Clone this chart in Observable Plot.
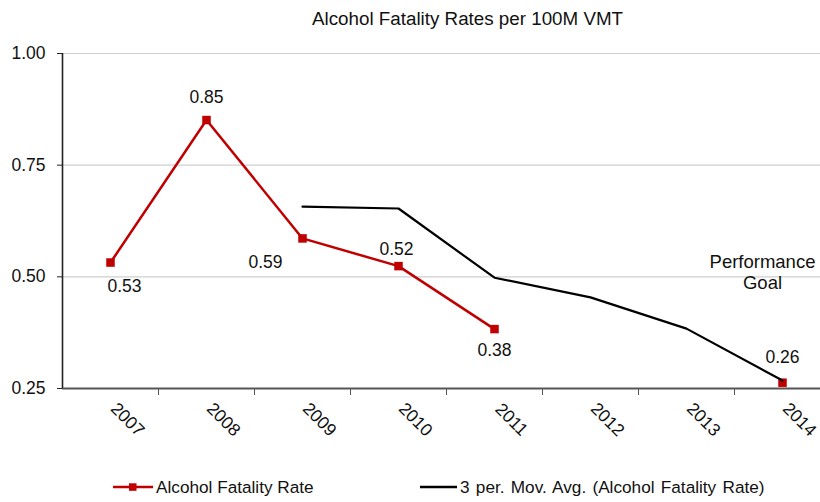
<!DOCTYPE html>
<html><head><meta charset="utf-8">
<script src="https://cdn.jsdelivr.net/npm/d3@7"></script>
<script src="https://cdn.jsdelivr.net/npm/@observablehq/plot@0.6"></script>
<style>
body{margin:0;background:#fff;font-family:"Liberation Sans",Arial,sans-serif;color:#111}
#wrap{position:relative;width:820px;height:502px;overflow:hidden}
#title{position:relative;height:34px}
#title span{position:absolute;left:312px;top:10px;font-size:18.8px;line-height:1;white-space:nowrap}
#chart{height:426px}
#chart svg{display:block}
#legend{position:relative;height:42px}
#legend .sw{position:absolute;top:21px}
#legend .lab{position:absolute;top:19px;font-size:17.2px;line-height:1;white-space:nowrap}
</style></head>
<body>
<div id="wrap">
  <div id="title"><span>Alcohol Fatality Rates per 100M VMT</span></div>
  <div id="chart"></div>
  <div id="legend"></div>
</div>
<script>
// ---- data ----
const titleText = "Alcohol Fatality Rates per 100M VMT";
const years = [2007, 2008, 2009, 2010, 2011, 2012, 2013, 2014];
const rateYears = [2007, 2008, 2009, 2010, 2011, 2012, 2013, 2014];
const rateValues = [0.532, 0.851, 0.586, 0.524, 0.383, null, null, 0.263];
const avgYears = [2009, 2010, 2011, 2012, 2013, 2014];
const avgValues = [0.657, 0.653, 0.498, 0.454, 0.384, 0.268];
const yTicks = [0.25, 0.50, 0.75, 1.00];
const gridValues = [0.50, 0.75, 1.00];
const seriesNames = ["Alcohol Fatality Rate", "3 per. Mov. Avg. (Alcohol Fatality Rate)"];
const goalText = ["Performance\nGoal"];
const goalYear = [2014];
const goalValue = [0.5];

// ---- build tables ----
const rate = rateYears.map((year, i) => ({year, value: rateValues[i]}));
const ratePoints = rate.filter(d => d.value != null);
const avg = avgYears.map((year, i) => ({year, value: avgValues[i]}));
const boundaries = years.slice(0, -1).map(y => y + 0.5);
const goal = goalText.map((t, i) => ({text: t, year: goalYear[i], value: goalValue[i]}));

const RED = "#c00000";
const FONT = "'Liberation Sans', Arial, sans-serif";

// label offsets (styling only)
const labelOffsets = {2007: [14, 24], 2008: [0, -23], 2009: [-37, 24], 2010: [-2, -17], 2011: [0, 21], 2014: [0, -25]};
const labelMarks = ratePoints.map(d => Plot.text([d], {
  x: "year", y: "value", text: r => d3.format(".2f")(r.value),
  dx: labelOffsets[d.year][0], dy: labelOffsets[d.year][1],
  fontSize: 17.5, fill: "#111"
}));

const chart = Plot.plot({
  width: 820, height: 426,
  marginTop: 19, marginBottom: 72, marginLeft: 62, marginRight: 0,
  style: {fontFamily: FONT, fontSize: "17.5px", color: "#111", background: "#fff"},
  x: {type: "linear", domain: [2006.5, 2014.5], range: [62, 830], axis: null, label: null},
  y: {domain: [0.25, 1], axis: null, label: null},
  marks: [
    Plot.ruleY(gridValues, {stroke: "#cfcfcf", strokeWidth: 1.2}),
    Plot.ruleY([0.25], {stroke: "#555", strokeWidth: 2}),
    Plot.ruleX([2006.5], {stroke: "#222", strokeWidth: 1.6}),
    Plot.axisY({ticks: yTicks, tickFormat: d3.format(".2f"), tickSize: 5, tickPadding: 12, stroke: "#222", fontSize: 17.5, label: null}),
    Plot.axisX({ticks: boundaries, tickFormat: () => "", tickSize: 7, stroke: "#555", label: null}),
    Plot.text(years, {x: d => d, text: d => String(d), frameAnchor: "bottom", rotate: 45, dx: 13, dy: 35, fontSize: 17.5, fill: "#111"}),
    Plot.line(rate, {x: "year", y: "value", stroke: RED, strokeWidth: 2.5}),
    Plot.dot(ratePoints, {x: "year", y: "value", symbol: "square", r: 4.8, fill: RED, stroke: "none"}),
    Plot.line(avg, {x: "year", y: "value", stroke: "#000", strokeWidth: 2.2}),
    ...labelMarks,
    Plot.text(goal, {x: "year", y: "value", text: "text", dx: -20, dy: -5, fontSize: 18.5, lineHeight: 1.13, fill: "#111"})
  ]
});
document.getElementById("chart").appendChild(chart);

// ---- legend ----
const legend = d3.select("#legend");
const sw1 = legend.append("svg").attr("class", "sw").attr("width", 44).attr("height", 12).style("left", "112px");
sw1.append("line").attr("x1", 1).attr("x2", 41).attr("y1", 6).attr("y2", 6).attr("stroke", RED).attr("stroke-width", 2.5);
sw1.append("rect").attr("x", 17).attr("y", 2.3).attr("width", 7.5).attr("height", 7.5).attr("fill", RED);
legend.append("div").attr("class", "lab").style("left", "156px").text(seriesNames[0]);
const sw2 = legend.append("svg").attr("class", "sw").attr("width", 40).attr("height", 12).style("left", "419px");
sw2.append("line").attr("x1", 1).attr("x2", 38).attr("y1", 6).attr("y2", 6).attr("stroke", "#000").attr("stroke-width", 2.4);
legend.append("div").attr("class", "lab").style("left", "460px").style("word-spacing", "1.5px").text(seriesNames[1]);
</script>
</body></html>
